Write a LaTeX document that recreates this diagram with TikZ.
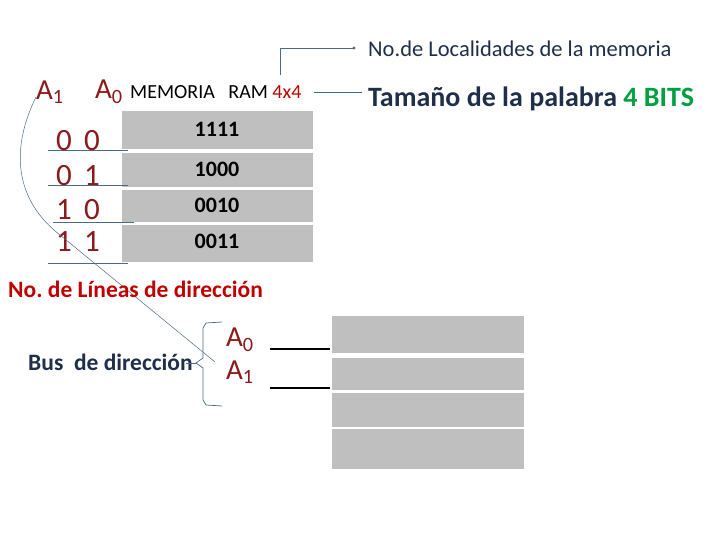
\documentclass[tikz,border=0pt]{standalone}
\usepackage{fontspec}
\setmainfont{Carlito}
\frenchspacing
\definecolor{dred}{HTML}{8B1A1A}
\definecolor{rred}{HTML}{C00000}
\definecolor{navy}{HTML}{1F2F4A}
\definecolor{lin}{HTML}{4A6A8A}
\definecolor{cell}{HTML}{BFBFBF}
\definecolor{grn}{HTML}{00A040}
\newcommand{\fs}[1]{\fontsize{#1}{#1}\selectfont}
\begin{document}
\begin{tikzpicture}[x=1pt,y=-1pt,
 lbl/.style={inner sep=0pt,anchor=center},
 thin/.style={draw=lin,line width=0.7pt}]
\useasboundingbox (0,0) rectangle (720,540);
% top memory
\fill[cell] (122,111) rectangle (313,149);
\fill[cell] (122,153) rectangle (313,187);
\fill[cell] (122,190) rectangle (313,222);
\fill[cell] (122,225) rectangle (313,262);
\node[lbl,font=\fs{22}\bfseries] (m1) at (217,129) {1111};
\node[lbl,font=\fs{22}\bfseries] (m2) at (217,169) {1000};
\node[lbl,font=\fs{22}\bfseries] (m3) at (217,205) {0010};
\node[lbl,font=\fs{22}\bfseries] (m4) at (217,241) {0011};
\draw[thin] (48,150) -- (128,150);
\draw[thin] (48,185) -- (128,185);
\draw[thin] (53,222) -- (134,222);
\draw[thin] (48,263) -- (128,263);
\foreach \t/\y in {0\ \,0/141,0\ \,1/176,1\ \,0/210,1\ \,1/242}
  \node[lbl,text=dred,font=\fs{31}] at (78,\y) {\t};
\node[lbl,text=dred,font=\fs{29}] (a1) at (50,92) {A\textsubscript{1}};
\node[lbl,text=dred,font=\fs{29}] (a0) at (109,92) {A\textsubscript{0}};
\node[lbl,anchor=west,font=\fs{20}] (mem) at (130,92) {MEMORIA\ \ \ RAM \textcolor{rred}{4x4}};
\coordinate (r) at (314,92);
\draw[thin] (r) -- (362,92);
\node[lbl,anchor=west,text=navy,font=\fs{28}\bfseries] (tam) at (368,99) {Tamaño de la palabra \textcolor{grn}{4 BITS}};
\node[lbl,anchor=west,text=navy,font=\fs{22.5}] (loc) at (368,49) {No.de Localidades de la memoria};
\draw[thin] (280,75) -- (280,48) -- (353,48);
\fill[lin] (354,48) circle (1.6);
% curve
\draw[thin,line width=0.5pt] (36,97) .. controls (10,150) and (15,200) .. (60,235) -- (215,362);
\node[lbl,anchor=west,text=rred,font=\fs{23.5}\bfseries] (lin) at (8,289) {No. de Líneas de dirección};
\node[lbl,anchor=west,text=navy,font=\fs{23.5}\bfseries] (bus) at (28,362) {Bus\ \ de dirección};
\draw[thin] (222,322) -- (206,323) -- (203,328) -- (203,358) -- (196,363) -- (203,368) -- (203,400) -- (206,405) -- (222,406);
\draw[thin] (186,363) -- (196,363);
\node[lbl,text=dred,font=\fs{29}] (b0) at (240,340) {A\textsubscript{0}};
\node[lbl,text=dred,font=\fs{29}] (b1) at (240,372) {A\textsubscript{1}};
\draw[line width=2.5pt] (270,349) -- (330,349);
\draw[line width=2.5pt] (270,388) -- (330,388);
\fill[cell] (332,316) rectangle (524,353);
\fill[cell] (332,358) rectangle (524,390);
\fill[cell] (332,393) rectangle (524,427);
\fill[cell] (332,429) rectangle (524,469);
\end{tikzpicture}
\end{document}
